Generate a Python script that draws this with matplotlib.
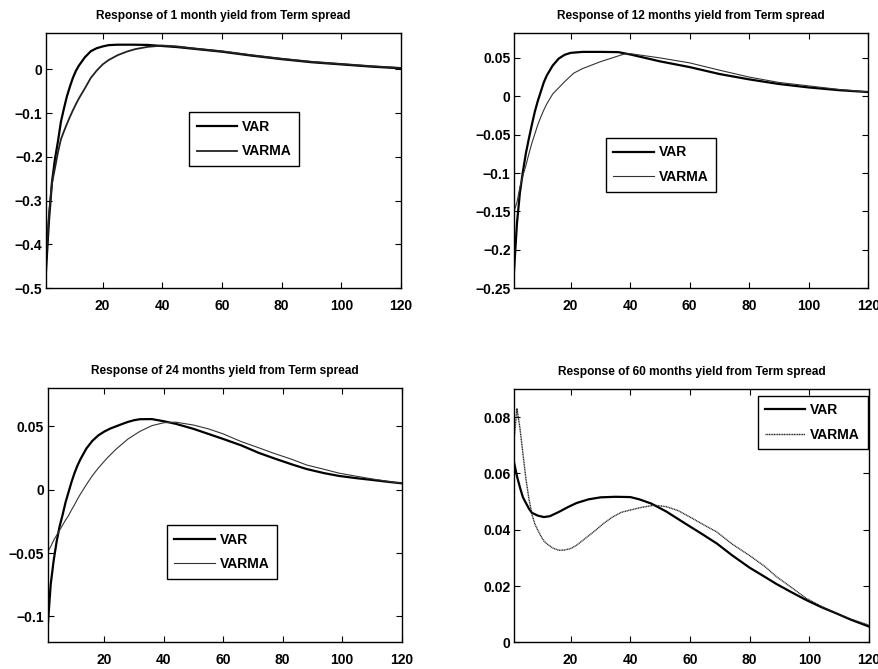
import matplotlib
matplotlib.use("Agg")
import matplotlib.pyplot as plt

# --- data (months, response) ---
titles = [
    "Response of 1 month yield from Term spread",
    "Response of 12 months yield from Term spread",
    "Response of 24 months yield from Term spread",
    "Response of 60 months yield from Term spread",
]

# 1 month yield
m1_var_x = [1, 2, 3, 4, 5, 6, 7, 8, 9, 10, 11, 12, 14, 16, 18, 20, 22, 25, 30, 35, 40, 45, 50, 60, 70, 80, 90, 100, 110, 120]
m1_var_y = [-0.46, -0.345, -0.258, -0.205, -0.165, -0.12, -0.09, -0.062, -0.04, -0.02, -0.004, 0.008, 0.027, 0.041,
            0.048, 0.052, 0.055, 0.056, 0.056, 0.0555, 0.053, 0.0505, 0.047, 0.040, 0.031, 0.023, 0.016, 0.011, 0.006, 0.002]
m1_varma_x = [1, 2, 3, 4, 5, 6, 7, 8, 9, 10, 11, 12, 14, 16, 18, 20, 22, 25, 28, 31, 35, 40, 45, 50, 60, 70, 80, 90, 100, 110, 120]
m1_varma_y = [-0.44, -0.33, -0.26, -0.226, -0.19, -0.16, -0.142, -0.125, -0.109, -0.094, -0.08, -0.067, -0.044, -0.02,
              -0.003, 0.011, 0.021, 0.032, 0.040, 0.046, 0.051, 0.054, 0.052, 0.048, 0.041, 0.032, 0.024, 0.017, 0.012, 0.007, 0.003]

# 12 months yield
m12_var_x = [1, 2, 3, 4, 5, 6, 7, 8, 9, 10, 11, 12, 14, 16, 18, 20, 24, 30, 36, 40, 50, 60, 70, 80, 90, 100, 110, 120]
m12_var_y = [-0.228, -0.165, -0.125, -0.098, -0.074, -0.055, -0.037, -0.02, -0.006, 0.006, 0.018, 0.027, 0.040, 0.049,
             0.054, 0.0565, 0.0578, 0.0578, 0.0575, 0.0545, 0.0455, 0.038, 0.029, 0.022, 0.016, 0.0115, 0.008, 0.0055]
m12_varma_x = [1, 2, 3, 4, 5, 6, 7, 8, 9, 10, 11, 12, 14, 16, 18, 21, 24, 27, 30, 34, 38, 40, 50, 60, 70, 80, 90, 100, 110, 120]
m12_varma_y = [-0.15, -0.138, -0.118, -0.103, -0.09, -0.075, -0.061, -0.049, -0.037, -0.027, -0.018, -0.01, 0.003, 0.011,
               0.019, 0.030, 0.036, 0.0405, 0.045, 0.050, 0.055, 0.0555, 0.050, 0.0435, 0.034, 0.025, 0.018, 0.0135, 0.009, 0.0056]

# 24 months yield
m24_var_x = [1, 2, 3, 4, 5, 6, 7, 8, 9, 10, 11, 12, 14, 16, 18, 20, 22, 24, 26, 28, 30, 32, 36, 40, 44, 50, 55, 60, 66,
             72, 77, 83, 88, 94, 99, 105, 110, 115, 120]
m24_var_y = [-0.108, -0.075, -0.056, -0.041, -0.029, -0.02, -0.01, -0.002, 0.006, 0.013, 0.019, 0.024, 0.0325, 0.0385,
             0.0428, 0.0458, 0.0482, 0.050, 0.0518, 0.0535, 0.0548, 0.0556, 0.0557, 0.054, 0.052, 0.048, 0.044, 0.040,
             0.035, 0.029, 0.0248, 0.020, 0.0163, 0.013, 0.0108, 0.009, 0.0077, 0.0063, 0.005]
m24_varma_x = [1, 2, 3, 4, 5, 6, 7, 8, 9, 10, 11, 12, 14, 16, 18, 21, 24, 28, 32, 36, 40, 44, 50, 55, 60, 66, 72, 77,
               83, 88, 94, 99, 105, 110, 115, 120]
m24_varma_y = [-0.049, -0.045, -0.040, -0.036, -0.032, -0.028, -0.024, -0.0205, -0.016, -0.012, -0.0075, -0.0035, 0.004,
               0.011, 0.017, 0.025, 0.032, 0.040, 0.046, 0.0505, 0.0528, 0.0533, 0.051, 0.048, 0.044, 0.038, 0.033,
               0.0287, 0.024, 0.0195, 0.016, 0.013, 0.0105, 0.0085, 0.0067, 0.005]

# 60 months yield
m60_var_x = [1, 2, 3, 4, 5, 6, 7, 8, 9, 11, 13, 16, 19, 22, 26, 30, 35, 40, 43, 47, 52, 59, 64, 69, 74, 80, 85, 89,
             94, 99, 104, 109, 114, 120]
m60_var_y = [0.064, 0.059, 0.055, 0.0515, 0.0495, 0.0475, 0.046, 0.0455, 0.045, 0.0445, 0.0448, 0.0463, 0.048, 0.0495,
             0.0508, 0.0515, 0.0517, 0.0516, 0.0508, 0.0493, 0.0465, 0.0418, 0.0385, 0.0351, 0.031, 0.0265, 0.0233,
             0.0207, 0.0178, 0.015, 0.0125, 0.0103, 0.008, 0.0056]
m60_varma_x = [1, 2, 3, 4, 5, 6, 7, 8, 9, 10, 11, 12, 14, 16, 18, 20, 22, 25, 28, 31, 34, 37, 40, 44, 48, 52, 56, 60,
               65, 69, 74, 80, 85, 89, 94, 99, 104, 109, 114, 120]
m60_varma_y = [0.072, 0.083, 0.076, 0.067, 0.058, 0.051, 0.0455, 0.042, 0.0398, 0.0378, 0.036, 0.035, 0.0335, 0.0327,
               0.0328, 0.0333, 0.0345, 0.037, 0.0395, 0.0422, 0.0445, 0.0462, 0.047, 0.048, 0.0487, 0.0482, 0.0468,
               0.0445, 0.0415, 0.0392, 0.035, 0.0308, 0.027, 0.0233, 0.0195, 0.0156, 0.0128, 0.0103, 0.0082, 0.0061]

x_ticks = [20, 40, 60, 80, 100, 120]
y_ticks = [
    [-0.5, -0.4, -0.3, -0.2, -0.1, 0],
    [-0.25, -0.2, -0.15, -0.1, -0.05, 0, 0.05],
    [-0.1, -0.05, 0, 0.05],
    [0, 0.02, 0.04, 0.06, 0.08],
]
y_tick_labels = [
    ["\u22120.5", "\u22120.4", "\u22120.3", "\u22120.2", "\u22120.1", "0"],
    ["\u22120.25", "\u22120.2", "\u22120.15", "\u22120.1", "\u22120.05", "0", "0.05"],
    ["\u22120.1", "\u22120.05", "0", "0.05"],
    ["0", "0.02", "0.04", "0.06", "0.08"],
]
y_limits = [(-0.5, 0.082), (-0.25, 0.082), (-0.12, 0.08), (0, 0.09)]

# --- layout / style ---
plt.rcParams["font.family"] = ["Liberation Sans", "DejaVu Sans"]
plt.rcParams["font.weight"] = "bold"

W, H = 879, 669
ax_boxes = [
    (46, 33.3, 401, 288.3),
    (514, 33.3, 868.3, 288.3),
    (47.7, 388.3, 401.7, 641.7),
    (514, 389, 869, 642.3),
]
legend_anchor = [(0.403, 0.69), (0.259, 0.59), (0.336, 0.46), (0.686, 0.974)]

series = [
    (m1_var_x, m1_var_y, m1_varma_x, m1_varma_y),
    (m12_var_x, m12_var_y, m12_varma_x, m12_varma_y),
    (m24_var_x, m24_var_y, m24_varma_x, m24_varma_y),
    (m60_var_x, m60_var_y, m60_varma_x, m60_varma_y),
]

fig = plt.figure(figsize=(W / 100, H / 100), dpi=100)

for i in range(4):
    x0, y0, x1, y1 = ax_boxes[i]
    ax = fig.add_axes([x0 / W, 1 - y1 / H, (x1 - x0) / W, (y1 - y0) / H])
    vx, vy, mx, my = series[i]
    ax.plot(vx, vy, color="black", lw=1.6, label="VAR")
    if i == 3:
        ax.plot(mx, my, color="#222222", lw=1.0, ls=(0, (0.8, 0.4)), label="VARMA")
    elif i == 0:
        ax.plot(mx, my, color="#222222", lw=1.3, label="VARMA")
    else:
        ax.plot(mx, my, color="#333333", lw=0.8, label="VARMA")

    ax.set_xlim(1, 120)
    ax.set_ylim(*y_limits[i])
    ax.set_xticks(x_ticks)
    ax.set_xticklabels([str(t) for t in x_ticks])
    ax.set_yticks(y_ticks[i])
    ax.set_yticklabels(y_tick_labels[i])
    ax.tick_params(direction="in", top=True, right=True, length=4, width=0.8,
                   labelsize=10)
    ax.tick_params(axis="x", pad=8)
    ax.tick_params(axis="y", pad=2.5)
    for s in ax.spines.values():
        s.set_linewidth(1.0)
    ax.set_title(titles[i], fontsize=8.6, fontweight="bold", pad=10)

    leg = ax.legend(loc="upper left", bbox_to_anchor=legend_anchor[i], borderaxespad=0,
                    fancybox=False, framealpha=1, edgecolor="black", fontsize=10,
                    handlelength=2.9, handletextpad=0.35, labelspacing=0.75, borderpad=0.55)
    leg.get_frame().set_linewidth(1.0)
    for t in leg.get_texts():
        t.set_fontweight("bold")

fig.savefig("out.png", dpi=100)
